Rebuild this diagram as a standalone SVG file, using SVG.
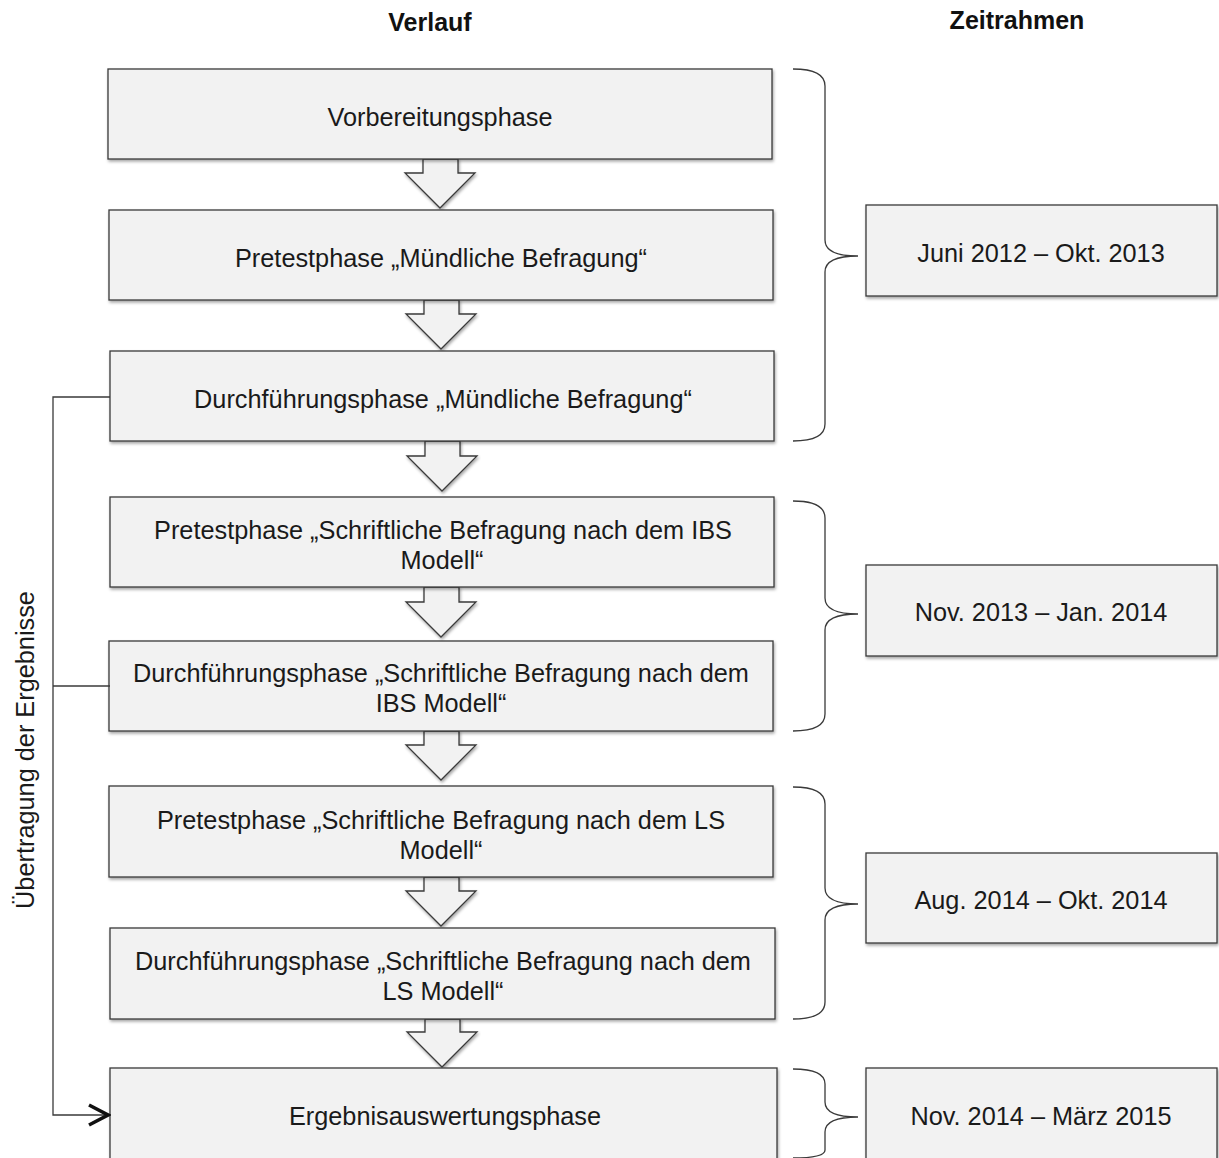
<svg xmlns="http://www.w3.org/2000/svg" width="1219" height="1158" viewBox="0 0 1219 1158">
  <defs>
    <filter id="shadow" x="-5%" y="-10%" width="110%" height="130%">
      <feDropShadow dx="1" dy="2" stdDeviation="1.5" flood-color="#000" flood-opacity="0.35"/>
    </filter>
    <marker id="open-arrow" viewBox="0 0 24 24" refX="22" refY="12" markerWidth="24" markerHeight="24" markerUnits="userSpaceOnUse" orient="auto">
      <path d="M2,2 L21,12 L2,22" fill="none" stroke="#111" stroke-width="3.5" stroke-linejoin="miter"/>
    </marker>
  </defs>
  <style>
    .box { fill: #f2f2f2; stroke: #3a3a3a; stroke-width: 1.3; filter: url(#shadow); }
    .barrow { fill: #f2f2f2; stroke: #3a3a3a; stroke-width: 1.3; filter: url(#shadow); }
    .label { font-family: "Liberation Sans", Arial, sans-serif; font-size: 25.3px; fill: #1a1a1a; text-anchor: middle; dominant-baseline: central; }
    .head { font-family: "Liberation Sans", Arial, sans-serif; font-size: 25px; font-weight: bold; fill: #111; text-anchor: middle; dominant-baseline: central; }
    .brace { fill: none; stroke: #3a3a3a; stroke-width: 1.3; }
    .link { fill: none; stroke: #3a3a3a; stroke-width: 1.3; }
  </style>
  <rect width="1219" height="1158" fill="#fff"/>

  <!-- column headings -->
  <text class="head" x="430" y="22">Verlauf</text>
  <text class="head" x="1017" y="20">Zeitrahmen</text>

  <!-- block arrows between phases -->
  <g id="flow-arrows">
    <path class="barrow" d="M423,159 L458,159 L458,173 L475,173 L440,208 L405,173 L423,173 Z"/>
    <path class="barrow" d="M424,300 L459,300 L459,314 L476,314 L441,349 L406,314 L424,314 Z"/>
    <path class="barrow" d="M425,441 L460,441 L460,456 L477,456 L442,491 L407,456 L425,456 Z"/>
    <path class="barrow" d="M424,587 L459,587 L459,602 L476,602 L441,637 L406,602 L424,602 Z"/>
    <path class="barrow" d="M424,731 L459,731 L459,745 L476,745 L441,780 L406,745 L424,745 Z"/>
    <path class="barrow" d="M424,877 L459,877 L459,891 L476,891 L441,926 L406,891 L424,891 Z"/>
    <path class="barrow" d="M425,1019 L460,1019 L460,1032 L477,1032 L442,1067 L407,1032 L425,1032 Z"/>
  </g>

  <!-- phase boxes -->
  <g id="phase-1">
    <rect class="box" x="108" y="69" width="664" height="90"/>
    <text class="label" x="440" y="117">Vorbereitungsphase</text>
  </g>
  <g id="phase-2">
    <rect class="box" x="109" y="210" width="664" height="90"/>
    <text class="label" x="441" y="258">Pretestphase „Mündliche Befragung“</text>
  </g>
  <g id="phase-3">
    <rect class="box" x="110" y="351" width="664" height="90"/>
    <text class="label" x="443" y="399">Durchführungsphase „Mündliche Befragung“</text>
  </g>
  <g id="phase-4">
    <rect class="box" x="110" y="497" width="664" height="90"/>
    <text class="label" x="443" y="530">Pretestphase „Schriftliche Befragung nach dem IBS</text>
    <text class="label" x="442" y="560">Modell“</text>
  </g>
  <g id="phase-5">
    <rect class="box" x="109" y="641" width="664" height="90"/>
    <text class="label" x="441" y="673">Durchführungsphase „Schriftliche Befragung nach dem</text>
    <text class="label" x="441" y="703">IBS Modell“</text>
  </g>
  <g id="phase-6">
    <rect class="box" x="109" y="786" width="664" height="91"/>
    <text class="label" x="441" y="820">Pretestphase „Schriftliche Befragung nach dem LS</text>
    <text class="label" x="441" y="850">Modell“</text>
  </g>
  <g id="phase-7">
    <rect class="box" x="110" y="928" width="665" height="91"/>
    <text class="label" x="443" y="961">Durchführungsphase „Schriftliche Befragung nach dem</text>
    <text class="label" x="443" y="991">LS Modell“</text>
  </g>
  <g id="phase-8">
    <rect class="box" x="110" y="1068" width="667" height="100"/>
    <text class="label" x="445" y="1116">Ergebnisauswertungsphase</text>
  </g>

  <!-- time frame boxes -->
  <g id="time-1">
    <rect class="box" x="866" y="205" width="351" height="91"/>
    <text class="label" x="1041" y="253">Juni 2012 – Okt. 2013</text>
  </g>
  <g id="time-2">
    <rect class="box" x="866" y="565" width="351" height="91"/>
    <text class="label" x="1041" y="612">Nov. 2013 – Jan. 2014</text>
  </g>
  <g id="time-3">
    <rect class="box" x="866" y="853" width="351" height="90"/>
    <text class="label" x="1041" y="900">Aug. 2014 – Okt. 2014</text>
  </g>
  <g id="time-4">
    <rect class="box" x="866" y="1068" width="351" height="100"/>
    <text class="label" x="1041" y="1116">Nov. 2014 – März 2015</text>
  </g>

  <!-- connectors: braces and result transfer line -->
  <g id="connectors">
    <path class="brace" d="M793,69 Q825,69 825,86 L825,240 Q825,256 858,256 Q825,256 825,272 L825,424 Q825,441 793,441"/>
    <path class="brace" d="M793,501 Q825,501 825,518 L825,598 Q825,614 858,614 Q825,614 825,630 L825,714 Q825,731 793,731"/>
    <path class="brace" d="M793,787 Q825,787 825,804 L825,888 Q825,904 858,904 Q825,904 825,920 L825,1002 Q825,1019 793,1019"/>
    <path class="brace" d="M793,1069 Q825,1069 825,1084 L825,1102 Q825,1117 858,1117 Q825,1117 825,1132 L825,1150 Q825,1158 793,1158"/>

    <path class="link" d="M110,397 L53,397 L53,1115 L109,1115" marker-end="url(#open-arrow)"/>
    <path class="link" d="M110,686 L53,686"/>
    <text class="label" transform="translate(25,750) rotate(-90)" x="0" y="0">Übertragung der Ergebnisse</text>
  </g>
</svg>
